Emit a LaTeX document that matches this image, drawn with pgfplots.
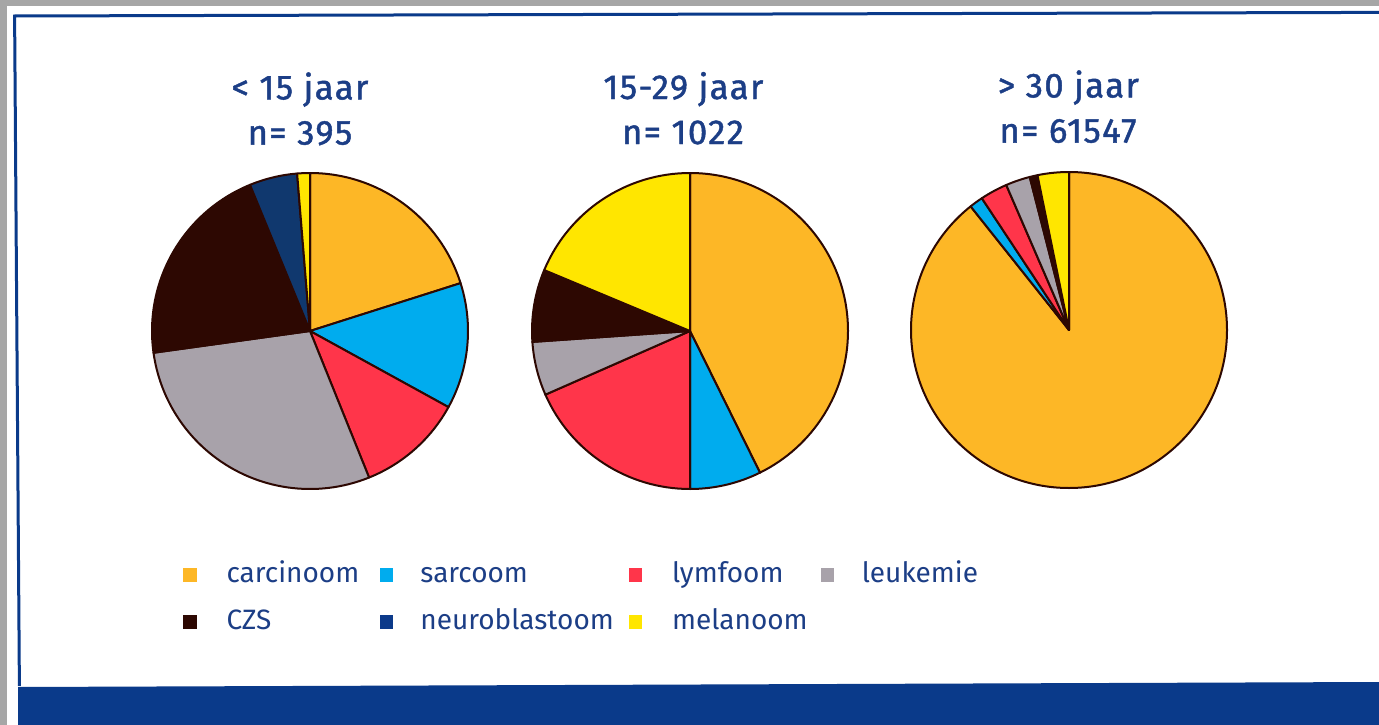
\documentclass[border=0pt]{standalone}
\usepackage{pgfplots}
\pgfplotsset{compat=1.18}
\usepackage{pgfplotstable}
\usepackage{fontspec}
\setmainfont{Fira Sans}
\newfontfamily\titlefont{Fira Sans}[FakeBold=1.3, LetterSpace=4]

\definecolor{ccarc}{RGB}{253,183,38}
\definecolor{csarc}{RGB}{0,172,238}
\definecolor{clymf}{RGB}{255,53,74}
\definecolor{cleuk}{RGB}{168,162,170}
\definecolor{cczs}{RGB}{45,8,2}
\definecolor{cneuro}{RGB}{16,56,110}
\definecolor{cneuroL}{RGB}{12,58,138}
\definecolor{cmel}{RGB}{255,230,0}
\definecolor{txtblue}{RGB}{28,62,134}
\definecolor{frameblue}{RGB}{10,58,138}
\definecolor{outergrey}{RGB}{166,166,166}

% percentages (clockwise from 12 o'clock)
% cid: 1 carcinoom, 2 sarcoom, 3 lymfoom, 4 leukemie, 5 CZS, 6 neuroblastoom, 7 melanoom
\pgfplotstableread{
x y cat value start cid
0 0 carcinoom 20.1 0.0 1
0 0 sarcoom 12.9 20.1 2
0 0 lymfoom 10.9 33.0 3
0 0 leukemie 28.9 43.9 4
0 0 CZS 21.0 72.8 5
0 0 neuroblastoom 4.9 93.8 6
0 0 melanoom 1.3 98.7 7
}\pieA
\pgfplotstableread{
x y cat value start cid
0 0 carcinoom 42.7 0.0 1
0 0 sarcoom 7.3 42.7 2
0 0 lymfoom 18.4 50.0 3
0 0 leukemie 5.5 68.4 4
0 0 CZS 7.4 73.9 5
0 0 melanoom 18.7 81.3 7
}\pieB
\pgfplotstableread{
x y cat value start cid
0 0 carcinoom 89.3 0.0 1
0 0 sarcoom 1.4 89.3 2
0 0 lymfoom 2.8 90.7 3
0 0 leukemie 2.5 93.5 4
0 0 CZS 0.8 96.0 5
0 0 melanoom 3.2 96.8 7
}\pieC

\pgfdeclareplotmark{wedge}{%
  \pgfmathsetmacro\wa{90-3.6*\wstart}%
  \pgfmathsetmacro\wb{90-3.6*\wend}%
  \pgfmathtruncatemacro\wci{\wcid}%
  \ifcase\wci\or\pgfsetfillcolor{ccarc}\or\pgfsetfillcolor{csarc}\or
    \pgfsetfillcolor{clymf}\or\pgfsetfillcolor{cleuk}\or\pgfsetfillcolor{cczs}\or
    \pgfsetfillcolor{cneuro}\or\pgfsetfillcolor{cmel}\fi
  \pgfsetstrokecolor{cczs}%
  \pgfsetlinewidth{1bp}%
  \pgfsetroundjoin
  \pgfpathmoveto{\pgfpointorigin}%
  \pgfpathlineto{\pgfpointpolar{\wa}{79bp}}%
  \pgfpatharc{\wa}{\wb}{79bp}%
  \pgfpathclose
  \pgfusepath{fill,stroke}%
}

\pgfplotsset{
  piestyle/.style={scale only axis, width=158bp, height=158bp,
    xmin=-1, xmax=1, ymin=-1, ymax=1, hide axis, clip=false, anchor=center},
  wedges/.style={only marks, mark=wedge, forget plot,
    visualization depends on={\thisrow{start} \as \wstart},
    visualization depends on={\thisrow{start}+\thisrow{value} \as \wend},
    visualization depends on={\thisrow{cid} \as \wcid}},
  sq/.style={legend image code/.code={\fill[##1, draw=none] (0bp,-3.3bp) rectangle (6.6bp,3.3bp);}},
}

\begin{document}
\begin{tikzpicture}
\useasboundingbox (0,0) rectangle (689.5bp,-362.5bp);
\fill[outergrey] (0,0) rectangle (689.5bp,-362.5bp);
\fill[white] (3.5bp,-3bp) rectangle (689.5bp,-362.5bp);
\draw[frameblue, line width=1.5bp] (9.7bp,-343bp) -- (7.3bp,-8bp) -- (689.5bp,-6.2bp);
\fill[frameblue] (9bp,-343.5bp) -- (689.5bp,-341bp) -- (689.5bp,-362.5bp) -- (9bp,-362.5bp) -- cycle;

\tikzset{ttl/.style={text=txtblue, font=\titlefont\fontsize{17.3bp}{20bp}\selectfont, anchor=base, inner sep=0pt}}
\node[ttl] at (150bp,-49.7bp) {< 15 jaar};
\node[ttl] at (150bp,-72.3bp) {n= 395};
\node[ttl] at (341.7bp,-49.5bp) {15-29 jaar};
\node[ttl] at (341.5bp,-72bp) {n= 1022};
\node[ttl] at (534.2bp,-48.7bp) {> 30 jaar};
\node[ttl] at (534bp,-71.3bp) {n= 61547};

\begin{axis}[piestyle, at={(155bp,-165.5bp)},
  legend columns=4,
  legend cell align=left,
  legend style={at={(axis description cs:0.098,-0.228)}, anchor=north west,
    draw=none, fill=none, inner sep=0pt, row sep=10bp,
    font=\fontsize{14bp}{17bp}\selectfont, text=txtblue,
    nodes={inner sep=0pt, text height=10.5bp, text depth=3bp},
    /tikz/column 1/.style={column sep=15bp},
    /tikz/column 2/.style={column sep=10.5bp},
    /tikz/column 3/.style={column sep=13.5bp},
    /tikz/column 4/.style={column sep=7.5bp},
    /tikz/column 5/.style={column sep=15bp},
    /tikz/column 6/.style={column sep=6.5bp},
    /tikz/column 7/.style={column sep=14bp}}]
\addplot[wedges] table[x=x, y=y] {\pieA};
\addlegendimage{sq, fill=ccarc}
\addlegendentry{carcinoom}
\addlegendimage{sq, fill=csarc}
\addlegendentry{sarcoom}
\addlegendimage{sq, fill=clymf}
\addlegendentry{lymfoom}
\addlegendimage{sq, fill=cleuk}
\addlegendentry{leukemie}
\addlegendimage{sq, fill=cczs}
\addlegendentry{CZS}
\addlegendimage{sq, fill=cneuroL}
\addlegendentry{neuroblastoom}
\addlegendimage{sq, fill=cmel}
\addlegendentry{melanoom}
\end{axis}

\begin{axis}[piestyle, at={(345bp,-165.5bp)}]
\addplot[wedges] table[x=x, y=y] {\pieB};
\end{axis}

\begin{axis}[piestyle, at={(534.5bp,-165bp)}]
\addplot[wedges] table[x=x, y=y] {\pieC};
\end{axis}
\end{tikzpicture}
\end{document}
